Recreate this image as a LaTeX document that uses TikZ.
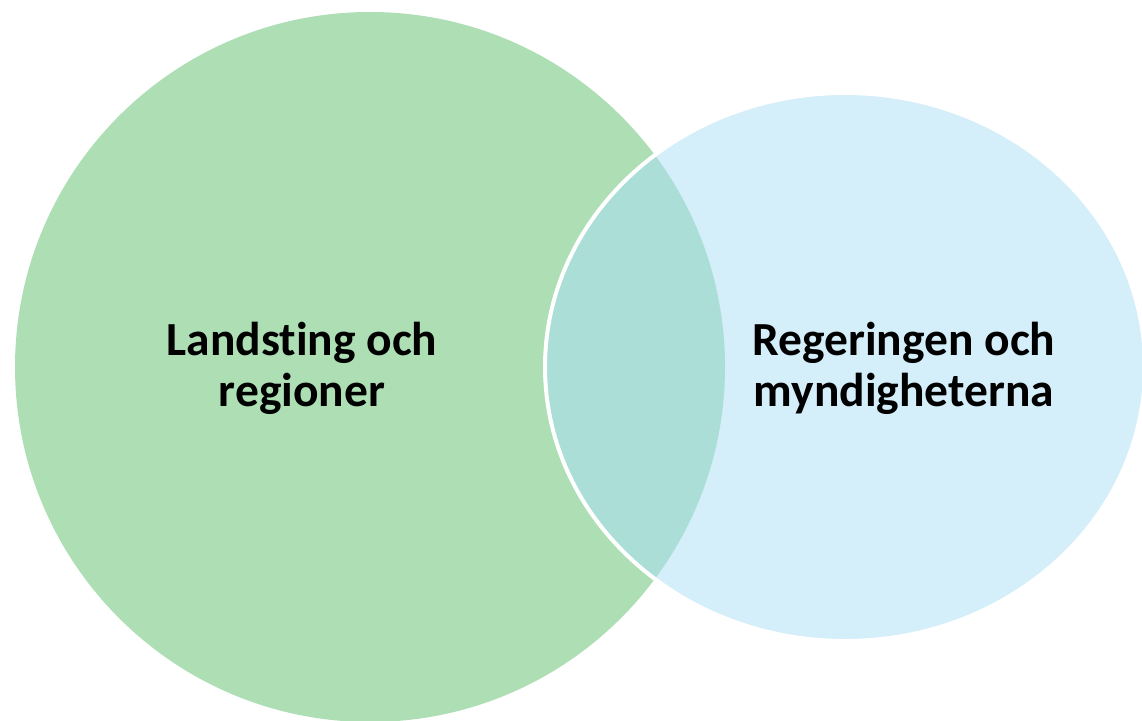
\documentclass[tikz,border=0pt]{standalone}
\usepackage{fontspec}
\setmainfont{Carlito}[Ligatures=NoCommon]
\definecolor{cgreen}{HTML}{ADDEB4}
\definecolor{cblue}{HTML}{D4EEFA}
\definecolor{cteal}{HTML}{AADED6}
\tikzset{
  lbl/.style={font=\fontsize{47.5}{51}\selectfont\bfseries, align=center, text=black, inner sep=0pt},
}
\begin{document}
\begin{tikzpicture}[x=1pt,y=-1pt]
\useasboundingbox (0,0) rectangle (1142,720);
\fill[cgreen] (370,367) circle (355);
\fill[cblue] (845,367) ellipse [x radius=300, y radius=274];
\begin{scope}
  \clip (370,367) circle (355);
  \fill[cteal] (845,367) ellipse [x radius=300, y radius=274];
\end{scope}
\draw[white, line width=4] (845,367) ellipse [x radius=300, y radius=274];
\node[lbl] (left) at (302,368) {Landsting och\\regioner};
\node[lbl] (right) at (904,368) {Regeringen och\\myndigheterna};
\end{tikzpicture}
\end{document}
